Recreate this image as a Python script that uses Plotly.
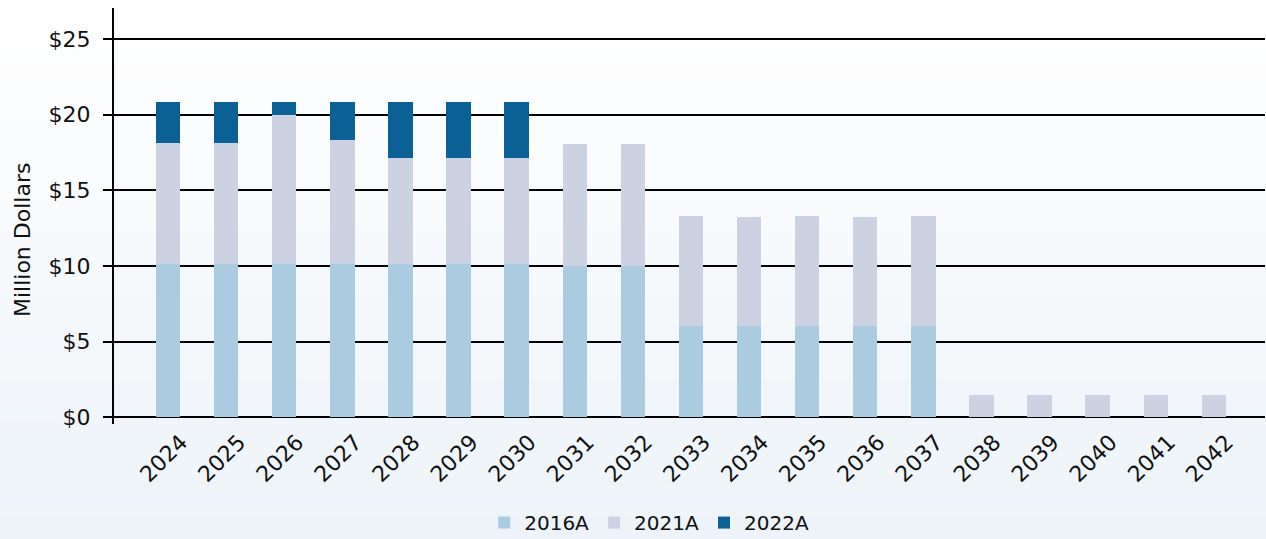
import plotly.graph_objects as go

years = [str(y) for y in range(2024, 2043)]
s2016 = [10.15, 10.15, 10.15, 10.15, 10.15, 10.15, 10.15, 10.0, 10.0, 6.0, 6.0, 6.0, 6.0, 6.0, 0, 0, 0, 0, 0]
s2021 = [8.0, 8.0, 9.85, 8.2, 7.0, 7.0, 7.0, 8.05, 8.05, 7.3, 7.25, 7.3, 7.25, 7.3, 1.5, 1.5, 1.5, 1.5, 1.5]
s2022 = [2.7, 2.7, 0.85, 2.5, 3.7, 3.7, 3.7, 0, 0, 0, 0, 0, 0, 0, 0, 0, 0, 0, 0]
yticks = [0, 5, 10, 15, 20, 25]
ytext = ["$0", "$5", "$10", "$15", "$20", "$25"]
ytitle = "Million Dollars"

FONT = "DejaVu Sans"
fig = go.Figure()
fig.add_bar(x=years, y=s2016, name="2016A", marker_color="#abcbe0", marker_line_width=0)
fig.add_bar(x=years, y=s2021, name="2021A", marker_color="#cdd2e3", marker_line_width=0)
fig.add_bar(x=years, y=s2022, name="2022A", marker_color="#0b6195", marker_line_width=0)

# background gradient
shapes = []
n = 40
top, bot = 1.03, -0.29
c0 = (255, 255, 255)
c1 = (237, 243, 248)
for i in range(n):
    t = i / (n - 1)
    col = tuple(round(c0[k] + (c1[k] - c0[k]) * t) for k in range(3))
    y1 = top - (top - bot) * i / n
    y0 = top - (top - bot) * (i + 1) / n
    shapes.append(dict(type="rect", xref="paper", yref="paper", x0=-0.2, x1=1.1,
                       y0=y0 - 0.002, y1=y1, fillcolor="rgb(%d,%d,%d)" % col,
                       line_width=0, layer="below"))

fig.update_layout(
    width=1266, height=539,
    barmode="stack", bargap=0.58,
    margin=dict(l=114, r=1, t=8, b=115, autoexpand=False),
    paper_bgcolor="#f6f9fb", plot_bgcolor="rgba(0,0,0,0)",
    font=dict(family=FONT, color="#111111", size=18),
    shapes=shapes,
    legend=dict(orientation="h", x=0.465, xanchor="center", y=-0.237, yanchor="middle",
                font=dict(size=20), traceorder="normal", itemwidth=30,
                bgcolor="rgba(0,0,0,0)"),
    showlegend=True,
    annotations=[dict(text=ytitle, xref="paper", yref="paper", x=-0.08, y=0.442,
                      xanchor="center", yanchor="middle", textangle=-90, showarrow=False,
                      font=dict(size=22, family=FONT, color="#111111"))],
)
fig.update_xaxes(range=[-0.93, 18.88], tickangle=-45, showgrid=False, automargin=False,
                 showline=False, ticks="", tickfont=dict(size=22), ticklabelshift=13)
fig.update_yaxes(range=[-0.45, 27.05], tickvals=yticks, ticktext=ytext, automargin=False,
                 showgrid=True, gridcolor="#000000", gridwidth=2,
                 zeroline=True, zerolinecolor="#000000", zerolinewidth=2,
                 showline=True, linecolor="#000000", linewidth=2,
                 ticks="outside", ticklen=9, tickcolor="#000000", tickwidth=2,
                 tickfont=dict(size=22), ticklabelstandoff=8)
fig.write_html("out.html", config={"displayModeBar": False},
               post_script="document.body.style.margin='0';document.body.style.overflow='hidden';")
